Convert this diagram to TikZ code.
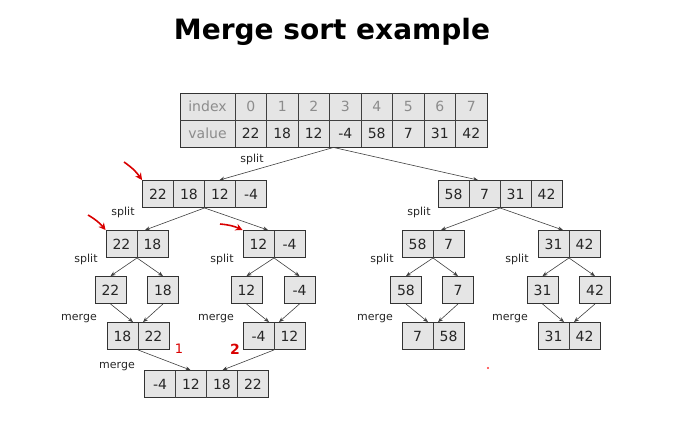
\documentclass[tikz,border=0pt]{standalone}
\usepackage{fontspec}
\setmainfont{DejaVu Sans}
\usetikzlibrary{arrows.meta,calc}
\tikzset{
  outer/.style={draw=black!80,line width=0.9pt,fill=black!10,inner sep=0pt},
  cell/.style={font=\fontsize{14}{14}\selectfont,text=black!85,inner sep=0pt},
  sep/.style={draw=black!75,line width=0.5pt},
  conn/.style={draw=black!75,line width=0.6pt,-{Stealth[length=5pt,width=4pt]}},
  lbl/.style={font=\fontsize{11}{11}\selectfont,text=black!85,inner sep=0pt},
  red/.style={draw=red!85!black,line width=1.6pt,-{Stealth[length=7pt,width=7pt]}},
}
\newcommand\arr[5]{%
  \node[outer,minimum width={#4*31pt},minimum height=27pt] (#1) at (#2,#3) {};
  \foreach \v [count=\i] in {#5} {
    \node[cell] (#1-\i) at ({#2-#4*31/2+(\i-0.5)*31},#3) {\v};
    \ifnum\i>1 \draw[sep] ({#2-#4*31/2+(\i-1)*31},#3-13.5) -- ++(0,27);\fi
  }%
}
\begin{document}
\begin{tikzpicture}[x=1pt,y=-1pt]
\useasboundingbox (0,0) rectangle (678,437);
\node[font=\bfseries\fontsize{28}{28}\selectfont] (title) at (332,32) {Merge sort example};
% top table
\node[outer,minimum width=307pt,minimum height=54pt] (top) at (333.5,120) {};
\draw[sep] (180,120) -- (487,120);
\draw[sep] (235,93) -- (235,147);
\node[cell,text=black!45] (idx) at (207.5,106.5) {index};
\node[cell,text=black!45] (val) at (207.5,133.5) {value};
\foreach \i/\v [count=\k] in {0/22,1/18,2/12,3/-4,4/58,5/7,6/31,7/42} {
  \node[cell,text=black!45] (i\k) at ({235+(\k-0.5)*31.5},106.5) {\i};
  \node[cell] (v\k) at ({235+(\k-0.5)*31.5},133.5) {\v};
  \ifnum\k>1 \draw[sep] ({235+(\k-1)*31.5},93) -- ++(0,54);\fi
}
\arr{La}{204.5}{194}{4}{22,18,12,-4}
\arr{Lb}{500}{194}{4}{58,7,31,42}
\arr{Ma}{137}{244}{2}{22,18}
\arr{Mb}{274}{244}{2}{12,-4}
\arr{Mc}{433}{244}{2}{58,7}
\arr{Md}{569}{244}{2}{31,42}
\arr{Sa}{110.5}{290}{1}{22}
\arr{Sb}{163}{290}{1}{18}
\arr{Sc}{246.5}{290}{1}{12}
\arr{Sd}{299.5}{290}{1}{-4}
\arr{Se}{406}{290}{1}{58}
\arr{Sf}{458}{290}{1}{7}
\arr{Sg}{542.5}{290}{1}{31}
\arr{Sh}{595}{290}{1}{42}
\arr{Ga}{138}{336}{2}{18,22}
\arr{Gb}{274}{336}{2}{-4,12}
\arr{Gc}{433}{336}{2}{7,58}
\arr{Gd}{569}{336}{2}{31,42}
\arr{F}{206.5}{384}{4}{-4,12,18,22}
% connectors
\draw[conn] (top.south) -- ($(La.north)+(15,0)$);
\draw[conn] (top.south) -- ($(Lb.north)+(-22,0)$);
\draw[conn] (La.south) -- ($(Ma.north)+(8,0)$);
\draw[conn] (La.south) -- ($(Mb.north)+(-6,0)$);
\draw[conn] (Lb.south) -- ($(Mc.north)+(8,0)$);
\draw[conn] (Lb.south) -- ($(Md.north)+(-6,0)$);
\foreach \p/\a/\b in {Ma/Sa/Sb,Mb/Sc/Sd,Mc/Se/Sf,Md/Sg/Sh} {
  \draw[conn] (\p.south) -- (\a.north);
  \draw[conn] (\p.south) -- (\b.north);
}
\foreach \p/\a/\b in {Ga/Sa/Sb,Gb/Sc/Sd,Gc/Se/Sf,Gd/Sg/Sh} {
  \draw[conn] (\a.south) -- ($(\p.north)+(-5,0)$);
  \draw[conn] (\b.south) -- ($(\p.north)+(5,0)$);
}
\draw[conn] (Ga.south) -- ($(F.north)+(-16,0)$);
\draw[conn] (Gb.south) -- ($(F.north)+(16,0)$);
% labels
\node[lbl] (s0) at (252,159) {split};
\node[lbl] (s1) at (123,212) {split};
\node[lbl] (s2) at (419,212) {split};
\node[lbl] (s3) at (86,259) {split};
\node[lbl] (s4) at (222,259) {split};
\node[lbl] (s5) at (382,259) {split};
\node[lbl] (s6) at (517,259) {split};
\node[lbl] (m1) at (79,319) {merge};
\node[lbl] (m2) at (216,319) {merge};
\node[lbl] (m3) at (375,319) {merge};
\node[lbl] (m4) at (510,319) {merge};
\node[lbl] (m5) at (117,367) {merge};
% red annotations
\coordinate (r1) at (124,162);
\draw[red] (r1) to[bend left=10] (La.north west);
\coordinate (r2) at (88,215);
\draw[red] (r2) to[bend left=10] (Ma.north west);
\coordinate (r3) at (220,224);
\draw[red] (r3) to[bend left=10] (Mb.north west);
\node[text=red!85!black,font=\fontsize{13}{13}\selectfont] (one) at (179,349) {1};
\node[text=red!85!black,font=\bfseries\fontsize{14}{14}\selectfont] (two) at (235,349) {2};
\fill[red!80] (488,368) circle (1.2);
\end{tikzpicture}
\end{document}
